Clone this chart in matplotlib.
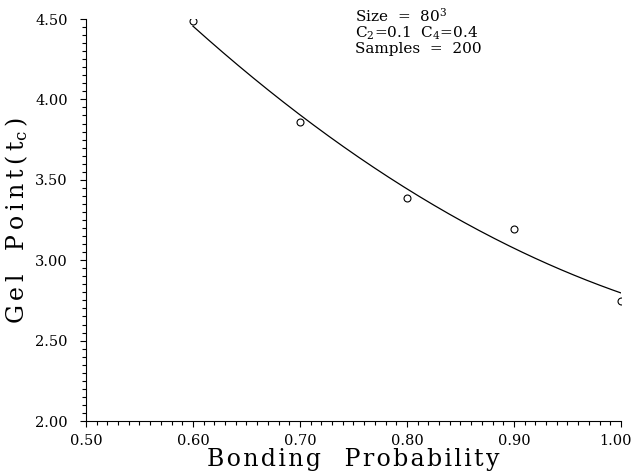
import numpy as np
import matplotlib
matplotlib.use('Agg')
import matplotlib.pyplot as plt
import matplotlib.transforms as mtransforms
from matplotlib.ticker import MultipleLocator, FormatStrFormatter

plt.rcParams['font.family'] = 'DejaVu Serif'
plt.rcParams['mathtext.fontset'] = 'dejavuserif'

bonding_prob = [0.60, 0.70, 0.80, 0.90, 1.00]
gel_point = [4.487, 3.86, 3.387, 3.194, 2.746]

# quadratic fit through the measured points
coef = np.polyfit(bonding_prob, gel_point, 2)
xfit = np.linspace(0.60, 1.00, 200)
yfit = np.polyval(coef, xfit)


def spaced(s, gap):
    # letter spacing for the axis titles
    return gap.join(s)


fig = plt.figure(figsize=(6.34, 4.73), dpi=100)
ax = fig.add_axes([0.1356, 0.1099, 0.8439, 0.8499])

ax.plot(xfit, yfit, color='black', linewidth=0.9)
ax.plot(bonding_prob, gel_point, linestyle='none', marker='o', markersize=5,
        markerfacecolor='white', markeredgecolor='black', markeredgewidth=0.8)

ax.set_xlim(0.50, 1.00)
ax.set_ylim(2.00, 4.50)
ax.xaxis.set_major_locator(MultipleLocator(0.10))
ax.xaxis.set_minor_locator(MultipleLocator(0.01))
ax.yaxis.set_major_locator(MultipleLocator(0.50))
ax.yaxis.set_minor_locator(MultipleLocator(0.05))
ax.xaxis.set_major_formatter(FormatStrFormatter('%.2f'))
ax.yaxis.set_major_formatter(FormatStrFormatter('%.2f'))

ax.spines['top'].set_visible(False)
ax.spines['right'].set_visible(False)
ax.tick_params(which='major', direction='out', length=4, width=0.8, labelsize=10.5)
ax.tick_params(axis='y', which='major', pad=9)
ax.tick_params(axis='x', which='major', pad=5)
ax.tick_params(which='minor', direction='out', length=3, width=0.8)

hair, thin, em = '\u200a', '\u2009', '\u2003'
ax.set_xlabel(spaced('Bonding', hair) + em + spaced('Probability', hair),
              fontsize=17, labelpad=0)
ax.set_ylabel(spaced('Gel', thin) + em + spaced('Point(t', thin) + '$_\\mathrm{c}$' + thin + ')',
              fontsize=17, labelpad=4)

# keep the 1.00 tick label inside the canvas
fig.canvas.draw()
for lab in ax.get_xticklabels():
    if lab.get_text() == '1.00':
        lab.set_transform(lab.get_transform() +
                          mtransforms.ScaledTranslation(-4 / 72, 0, fig.dpi_scale_trans))

fig.text(0.560, 1 - 22 / 473, 'Size  =  80$^3$', fontsize=11, va='baseline')
fig.text(0.560, 1 - 37.5 / 473, 'C$_2$=0.1  C$_4$=0.4', fontsize=11, va='baseline')
fig.text(0.560, 1 - 53 / 473, 'Samples  =  200', fontsize=11, va='baseline')

fig.savefig('out.png', dpi=100)
